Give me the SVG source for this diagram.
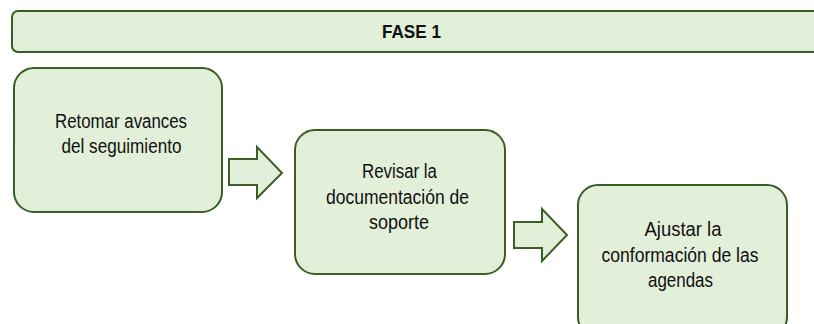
<svg xmlns="http://www.w3.org/2000/svg" width="814" height="324" viewBox="0 0 814 324">
<style>
.box{fill:#e2efd9;stroke:#3b5e24;stroke-width:2}
.arr{fill:#e2efd9;stroke:#3b5e24;stroke-width:2;stroke-linejoin:miter}
.t{font-family:"Liberation Sans",Arial,sans-serif;font-size:20px;fill:#111;text-anchor:middle}
.h{font-weight:bold;font-size:19px}
</style>
<rect x="0" y="0" width="814" height="324" fill="#fff"/>
<g id="fase1">
<rect class="box" x="12" y="11" width="830" height="41" rx="6"/>
<text class="t h" x="411.5" y="38.3" textLength="59" lengthAdjust="spacingAndGlyphs">FASE 1</text>
</g>
<g id="node1">
<rect class="box" x="14" y="68" width="208" height="144" rx="20"/>
<text class="t" x="121" y="128.3" textLength="132" lengthAdjust="spacingAndGlyphs">Retomar avances</text>
<text class="t" x="121.5" y="153.3" textLength="120" lengthAdjust="spacingAndGlyphs">del seguimiento</text>
</g>
<g id="node2">
<rect class="box" x="295" y="130" width="210" height="144" rx="20"/>
<text class="t" x="399.5" y="178" textLength="75" lengthAdjust="spacingAndGlyphs">Revisar la</text>
<text class="t" x="397.5" y="204" textLength="143" lengthAdjust="spacingAndGlyphs">documentación de</text>
<text class="t" x="399" y="229" textLength="60" lengthAdjust="spacingAndGlyphs">soporte</text>
</g>
<g id="node3">
<rect class="box" x="578" y="185" width="209" height="152" rx="20"/>
<text class="t" x="683" y="236" textLength="77" lengthAdjust="spacingAndGlyphs">Ajustar la</text>
<text class="t" x="680" y="262" textLength="157" lengthAdjust="spacingAndGlyphs">conformación de las</text>
<text class="t" x="680.5" y="287" textLength="65" lengthAdjust="spacingAndGlyphs">agendas</text>
</g>
<g id="connectors">
<path class="arr" d="M229,159 H257 V147 L282,173 L257,198 V185 H229 Z"/>
<path class="arr" d="M514,222 H542 V209 L567,235 L542,261 V248 H514 Z"/>
</g>
</svg>
